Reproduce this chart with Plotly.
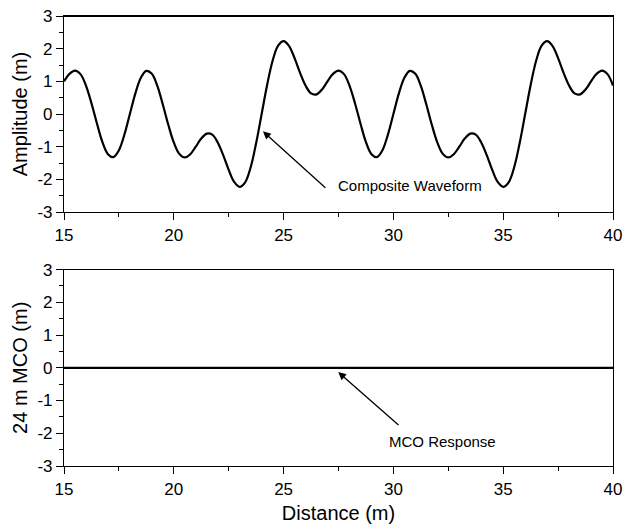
import plotly.graph_objects as go

# Distance samples (m), every 0.25 m from 15 to 40
distance = [15 + 0.25 * i for i in range(101)]

# Composite waveform amplitude (m)
amplitude = [
    1.00, 1.23, 1.33, 1.22, 0.87, 0.33, -0.29, -0.86, -1.23, -1.32, -1.11, -0.63,
    0.00, 0.63, 1.11, 1.32, 1.23, 0.86, 0.29, -0.33, -0.87, -1.22, -1.33, -1.23,
    -1.00, -0.75, -0.60, -0.63, -0.87, -1.26, -1.71, -2.08, -2.23, -2.09, -1.63, -0.89,
    0.00, 0.89, 1.63, 2.09, 2.23, 2.08, 1.71, 1.26, 0.87, 0.63, 0.60, 0.75,
    1.00, 1.23, 1.33, 1.22, 0.87, 0.33, -0.29, -0.86, -1.23, -1.32, -1.11, -0.63,
    0.00, 0.63, 1.11, 1.32, 1.23, 0.86, 0.29, -0.33, -0.87, -1.22, -1.33, -1.23,
    -1.00, -0.75, -0.60, -0.63, -0.87, -1.26, -1.71, -2.08, -2.23, -2.09, -1.63, -0.89,
    0.00, 0.89, 1.63, 2.09, 2.23, 2.08, 1.71, 1.26, 0.87, 0.63, 0.60, 0.75,
    1.00, 1.23, 1.33, 1.22, 0.87,
]

# 24 m MCO response (m)
mco_distance = [15, 40]
mco_response = [0, 0]

x_ticks = [15, 20, 25, 30, 35, 40]
x_labels = ["15", "20", "25", "30", "35", "40"]
y_ticks = [-3, -2, -1, 0, 1, 2, 3]
y_labels = ["-3", "-2", "-1", "0", "1", "2", "3"]

FONT = "Liberation Sans, Arial, sans-serif"

fig = go.Figure()
fig.add_trace(go.Scatter(x=distance, y=amplitude, mode="lines",
                         line=dict(color="black", width=2.2, shape="spline"),
                         xaxis="x", yaxis="y", showlegend=False, hoverinfo="skip"))
fig.add_trace(go.Scatter(x=mco_distance, y=mco_response, mode="lines",
                         line=dict(color="black", width=2.2),
                         xaxis="x2", yaxis="y2", showlegend=False, hoverinfo="skip"))

def xaxis(anchor, title=None):
    d = dict(range=[15, 40], tickvals=x_ticks, ticktext=x_labels, ticks="outside",
             ticklen=7, tickwidth=1.2, tickcolor="black", showline=True,
             linecolor="black", linewidth=1.2, mirror=True, showgrid=False,
             zeroline=False, anchor=anchor, domain=[0, 1], automargin=False,
             minor=dict(ticks="outside", ticklen=4, dtick=2.5, tick0=15,
                        tickcolor="black", tickwidth=1, showgrid=False),
             tickfont=dict(size=17, color="black", family=FONT))
    if title:
        d["title"] = dict(text=title, font=dict(size=20, color="black", family=FONT),
                          standoff=8)
    return d

def yaxis(anchor, domain, title):
    return dict(range=[-3, 3], tickvals=y_ticks, ticktext=y_labels, ticks="outside",
                ticklen=7, tickwidth=1.2, tickcolor="black", showline=True,
                linecolor="black", linewidth=1.2, mirror=True, showgrid=False,
                zeroline=False, anchor=anchor, domain=domain, automargin=False,
                minor=dict(ticks="outside", ticklen=4, dtick=0.5, tick0=0,
                           tickcolor="black", tickwidth=1, showgrid=False),
                tickfont=dict(size=17, color="black", family=FONT),
                title=dict(text=title, font=dict(size=20, color="black", family=FONT),
                           standoff=4))

fig.update_layout(
    width=630, height=529,
    margin=dict(l=64, r=17, t=16, b=63),
    paper_bgcolor="white", plot_bgcolor="white",
    font=dict(family=FONT, color="black"),
    xaxis=xaxis("y"),
    yaxis=yaxis("x", [0.5644, 1.0], "Amplitude (m)"),
    xaxis2=xaxis("y2", "Distance (m)"),
    yaxis2=yaxis("x2", [0.0, 0.4364], "24 m MCO (m)"),
    shapes=[
        dict(type="line", xref="x domain", yref="y domain", x0=0, x1=1, y0=1, y1=1,
             line=dict(color="black", width=2)),
    ],
    annotations=[
        dict(x=24.06, y=-0.53, xref="x", yref="y", ax=26.97, ay=-2.30,
             axref="x", ayref="y", text="", showarrow=True, arrowhead=2,
             arrowsize=1.2, arrowwidth=1.3, arrowcolor="black"),
        dict(x=30.76, y=-2.18, xref="x", yref="y", text="Composite Waveform",
             showarrow=False, font=dict(size=15, color="black", family=FONT)),
        dict(x=27.49, y=-0.13, xref="x2", yref="y2", ax=30.30, ay=-1.79,
             axref="x2", ayref="y2", text="", showarrow=True, arrowhead=2,
             arrowsize=1.2, arrowwidth=1.3, arrowcolor="black"),
        dict(x=32.25, y=-2.25, xref="x2", yref="y2", text="MCO Response",
             showarrow=False, font=dict(size=15, color="black", family=FONT)),
    ],
)

fig.write_html("out.html", config={"displayModeBar": False},
               post_script="document.body.style.margin='0';document.body.style.padding='0';")
